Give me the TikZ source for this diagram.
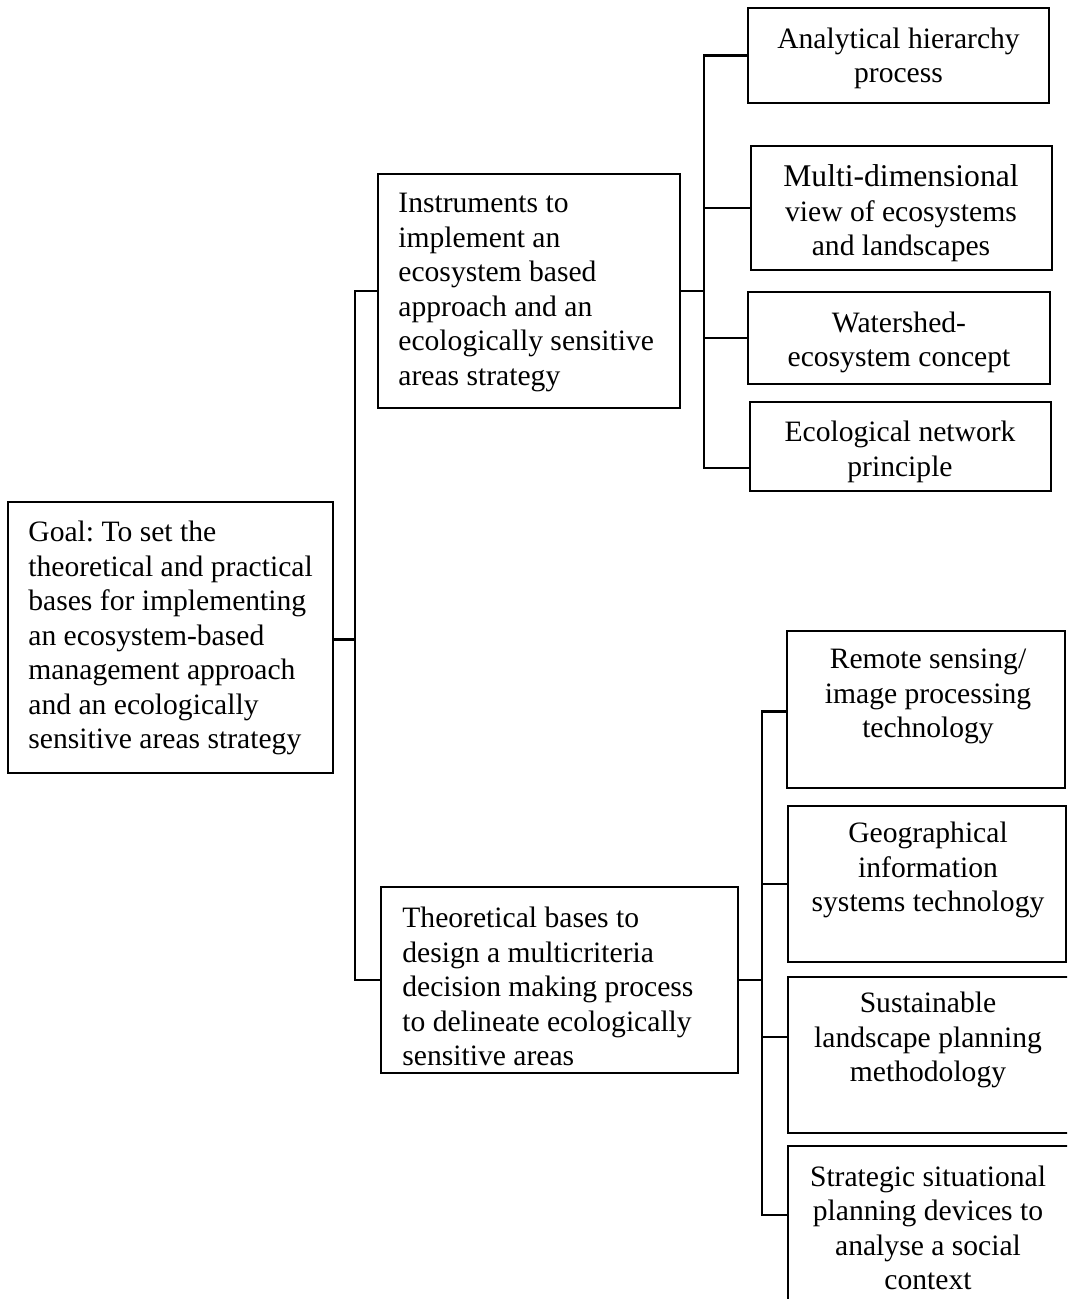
\documentclass[tikz,border=0pt]{standalone}
\usepackage{fontspec}
\setmainfont{Liberation Serif}
\usetikzlibrary{fit}
\frenchspacing
\begin{document}
\begin{tikzpicture}[x=0.5pt,y=-0.5pt,
  box/.style={draw=black, line width=1.1pt, inner sep=0pt, outer sep=0pt},
  link/.style={draw=black, line width=1.1pt, line cap=rect},
  txt/.style={inner sep=0pt, yshift=-1.2pt, font=\fontsize{14.8pt}{17.25pt}\selectfont},
  ltxt/.style={txt, anchor=west, align=left},
  ctxt/.style={txt, align=center}]
\useasboundingbox (0,0) rectangle (1067,1299);
\clip (0,0) rectangle (1067,1299);

% main boxes
\node[box, fit={(8,502) (333,773)}] (goal) {};
\node[box, fit={(378,174) (680,408)}] (inst) {};
\node[box, fit={(381,887) (738,1073)}] (theo) {};

% upper group of instruments
\node[box, fit={(748,8) (1049,103)}] (ahp) {};
\node[box, fit={(751,146) (1052,270)}] (multi) {};
\node[box, fit={(748,292) (1050,384)}] (water) {};
\node[box, fit={(750,402) (1051,491)}] (eco) {};

% lower group of technologies (running off the page edge)
\node[box, fit={(787,631) (1065,788)}] (remote) {};
\node[box, fit={(788,806) (1066,962)}] (geo) {};
\node[box, fit={(788,977) (1075,1133)}] (sust) {};
\node[box, fit={(788,1146) (1075,1330)}] (strat) {};

% texts
\node[ltxt] (goal-t) at (28,636) {Goal: To set the\\theoretical and practical\\bases for implementing\\an ecosystem-based\\management approach\\and an ecologically\\sensitive areas strategy};
\node[ltxt] (inst-t) at (398,290) {Instruments to\\implement an\\ecosystem based\\approach and an\\ecologically sensitive\\areas strategy};
\node[ltxt] (theo-t) at (402,984) {Theoretical bases to\\design a multicriteria\\decision making process\\to delineate ecologically\\sensitive areas};

\node[ctxt] (ahp-t) at (898.5,56) {Analytical hierarchy\\process};
\node[ctxt] (multi-t) at (901,211) {{\fontsize{15.8pt}{17.25pt}\selectfont Multi-dimensional}\\view of ecosystems\\and landscapes};
\node[ctxt] (water-t) at (899,340) {Watershed-\\ecosystem concept};
\node[ctxt] (eco-t) at (900,449.5) {Ecological network\\principle};

\node[ctxt] (remote-t) at (928,694) {Remote sensing/\\image processing\\technology};
\node[ctxt] (geo-t) at (928,868) {Geographical\\information\\systems technology};
\node[ctxt] (sust-t) at (928,1038) {Sustainable\\landscape planning\\methodology};
\node[ctxt] (strat-t) at (928,1225.5) {Strategic situational\\planning devices to\\analyse a social\\context};

% bus lines
\coordinate (tr) at (355,0);
\coordinate (b1) at (704,0);
\coordinate (b2) at (762,0);

% connectors
\draw[link] ([yshift=-1pt]goal.east) -- ([yshift=-1pt]goal.east -| tr);
\draw[link] (inst.west) -- (inst.west -| tr) -- (theo.west -| tr) -- (theo.west);

\draw[link] (inst.east) -- (inst.east -| b1);
\draw[link] (ahp.west) -- (ahp.west -| b1) -- ([yshift=-10.75pt]eco.west -| b1) -- ([yshift=-10.75pt]eco.west);
\draw[link] (multi.west) -- (multi.west -| b1);
\draw[link] (water.west) -- (water.west -| b1);

\draw[link] (theo.east) -- (theo.east -| b2);
\draw[link] ([yshift=-1pt]remote.west) -- ([yshift=-1pt]remote.west -| b2) -- ([yshift=11.5pt]strat.west -| b2) -- ([yshift=11.5pt]strat.west);
\draw[link] (geo.west) -- (geo.west -| b2);
\draw[link] ([yshift=9pt]sust.west) -- ([yshift=9pt]sust.west -| b2);
\end{tikzpicture}
\end{document}
